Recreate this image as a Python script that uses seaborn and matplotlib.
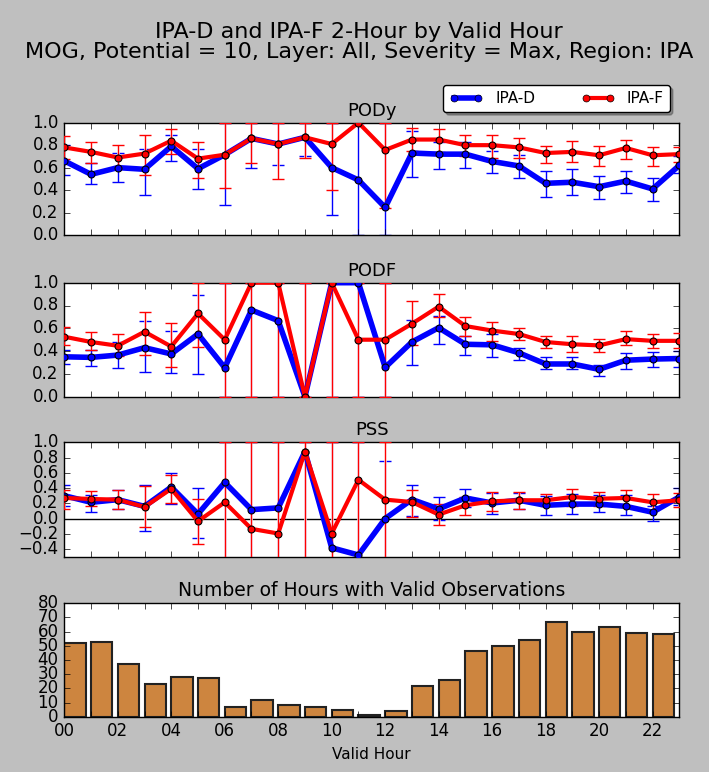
import numpy as np
import pandas as pd
import matplotlib
matplotlib.use("Agg")
import matplotlib.pyplot as plt
import seaborn as sns
from matplotlib.lines import Line2D

plt.style.use("classic")

hours = list(range(24))
bar_hours = list(range(23))
hour_labels = ["%02d" % h if h % 2 == 0 else "" for h in hours]

# PODy
pody_d = [0.66, 0.54, 0.60, 0.585, 0.79, 0.59, 0.715, 0.86, 0.81, 0.87, 0.60, 0.49,
          0.245, 0.73, 0.72, 0.72, 0.655, 0.615, 0.46, 0.47, 0.43, 0.48, 0.41, 0.62]
pody_f = [0.78, 0.74, 0.69, 0.725, 0.84, 0.68, 0.715, 0.86, 0.81, 0.87, 0.81, 1.0,
          0.757, 0.85, 0.85, 0.80, 0.80, 0.78, 0.73, 0.74, 0.71, 0.775, 0.71, 0.72]
pody_d_lo = [0.53, 0.45, 0.475, 0.36, 0.66, 0.41, 0.27, 0.60, 0.62, 0.70, 0.18, 0.0,
             0.0, 0.52, 0.585, 0.60, 0.55, 0.51, 0.34, 0.36, 0.32, 0.375, 0.305, 0.55]
pody_d_hi = [0.80, 0.64, 0.73, 0.77, 0.89, 0.77, 1.0, 1.0, 1.0, 1.0, 1.0, 1.0,
             1.0, 0.93, 0.83, 0.83, 0.75, 0.71, 0.57, 0.585, 0.525, 0.57, 0.51, 0.70]
pody_f_lo = [0.68, 0.64, 0.60, 0.53, 0.72, 0.505, 0.415, 0.64, 0.495, 0.69, 0.40, np.nan,
             0.24, 0.75, 0.735, 0.70, 0.69, 0.69, 0.645, 0.65, 0.61, 0.68, 0.61, 0.65]
pody_f_hi = [0.88, 0.825, 0.80, 0.89, 0.945, 0.83, 1.0, 1.0, 1.0, 1.0, 1.0, np.nan,
             1.0, 0.955, 0.945, 0.89, 0.89, 0.865, 0.79, 0.84, 0.79, 0.845, 0.78, 0.78]

# PODF
podf_d = [0.35, 0.345, 0.365, 0.43, 0.375, 0.55, 0.255, 0.76, 0.667, 0.0, 1.0, 1.0,
          0.257, 0.48, 0.605, 0.46, 0.455, 0.385, 0.287, 0.287, 0.24, 0.32, 0.33, 0.335]
podf_f = [0.526, 0.48, 0.447, 0.57, 0.44, 0.73, 0.50, 1.0, 1.0, 0.0, 1.0, 0.50,
          0.50, 0.64, 0.79, 0.62, 0.58, 0.55, 0.48, 0.46, 0.45, 0.505, 0.49, 0.49]
podf_d_lo = [0.29, 0.27, 0.255, 0.22, 0.21, 0.20, 0.0, 0.0, 0.0, 0.0, 0.0, 0.0,
             0.0, 0.275, 0.46, 0.37, 0.35, 0.32, 0.24, 0.24, 0.18, 0.24, 0.26, 0.26]
podf_d_hi = [0.41, 0.41, 0.48, 0.667, 0.58, 0.89, 1.0, 1.0, 1.0, 1.0, 1.0, 1.0,
             1.0, 0.67, 0.71, 0.53, 0.55, 0.43, 0.35, 0.35, 0.28, 0.38, 0.395, 0.40]
podf_f_lo = [0.45, 0.41, 0.36, 0.37, 0.263, 0.44, 0.0, 0.0, 0.0, 0.0, 0.0, 0.0,
             0.0, 0.45, 0.70, 0.53, 0.49, 0.50, 0.43, 0.395, 0.395, 0.45, 0.43, 0.43]
podf_f_hi = [0.61, 0.57, 0.55, 0.74, 0.643, 1.0, 1.0, 1.0, 1.0, 1.0, 1.0, 1.0,
             1.0, 0.84, 0.90, 0.70, 0.655, 0.60, 0.53, 0.53, 0.51, 0.58, 0.55, 0.56]

# PSS
pss_d = [0.30, 0.213, 0.248, 0.16, 0.413, 0.06, 0.474, 0.117, 0.14, 0.878, -0.383, -0.478,
         0.0, 0.25, 0.126, 0.27, 0.204, 0.24, 0.174, 0.19, 0.19, 0.16, 0.083, 0.283]
pss_f = [0.27, 0.257, 0.248, 0.152, 0.39, -0.035, 0.213, -0.135, -0.196, 0.878, -0.196, 0.509,
         0.248, 0.217, 0.052, 0.174, 0.226, 0.24, 0.24, 0.283, 0.26, 0.27, 0.213, 0.24]
pss_d_lo = [0.17, 0.083, 0.12, -0.165, 0.196, -0.25, -1.0, -1.0, -1.0, -1.0, -1.0, -1.0,
            -1.0, 0.03, -0.02, 0.15, 0.065, 0.12, 0.052, 0.06, 0.083, 0.052, -0.035, 0.18]
pss_d_hi = [0.44, 0.31, 0.37, 0.44, 0.596, 0.40, 1.0, 1.0, 1.0, 1.0, 1.0, 1.0,
            0.75, 0.435, 0.28, 0.387, 0.335, 0.33, 0.30, 0.32, 0.304, 0.31, 0.16, 0.40]
pss_f_lo = [0.126, 0.17, 0.126, -0.11, 0.204, -0.33, -1.0, -1.0, -1.0, -1.0, -1.0, -1.0,
            -1.0, 0.02, -0.078, 0.05, 0.096, 0.126, 0.16, 0.16, 0.16, 0.16, 0.117, 0.15]
pss_f_hi = [0.38, 0.357, 0.37, 0.43, 0.565, 0.257, 1.0, 1.0, 1.0, 1.0, 1.0, 1.0,
            1.0, 0.378, 0.19, 0.283, 0.343, 0.343, 0.32, 0.387, 0.343, 0.37, 0.32, 0.33]

# Number of hours with valid observations
counts = [52, 53, 37, 23, 28, 27, 7, 12, 8, 7, 5, 1, 4, 22, 26, 46, 50, 54, 67, 60, 63, 59, 58]

series_names = ["IPA-D", "IPA-F"]
colors = {"IPA-D": "blue", "IPA-F": "red"}
lws = {"IPA-D": 4, "IPA-F": 3}

W, H = 709, 772
fig = plt.figure(figsize=(W / 100, H / 100), dpi=100, facecolor="#bfbfbf")

left = 64.3 / W
width = (679.3 - 64.3) / W

def ax_at(top_px, bot_px):
    return fig.add_axes([left, 1 - bot_px / H, width, (bot_px - top_px) / H])

ax1 = ax_at(122.7, 235.0)
ax2 = ax_at(282.7, 396.7)
ax3 = ax_at(442.3, 556.7)
ax4 = ax_at(603.3, 716.7)

panels = [
    (ax1, "PODy", pody_d, pody_f, pody_d_lo, pody_d_hi, pody_f_lo, pody_f_hi, (0, 1), np.arange(0, 1.01, 0.2)),
    (ax2, "PODF", podf_d, podf_f, podf_d_lo, podf_d_hi, podf_f_lo, podf_f_hi, (0, 1), np.arange(0, 1.01, 0.2)),
    (ax3, "PSS", pss_d, pss_f, pss_d_lo, pss_d_hi, pss_f_lo, pss_f_hi, (-0.5, 1), np.arange(-0.4, 1.01, 0.2)),
]

def fmt(t):
    return ("%.1f" % t).replace("-", "\u2212")

for ax, title, vd, vf, dlo, dhi, flo, fhi, ylim, yt in panels:
    ax.set_facecolor("white")
    if title == "PSS":
        ax.axhline(0, color="black", lw=1, zorder=1)
    for k, (name, vals, lo, hi) in enumerate([("IPA-D", vd, dlo, dhi), ("IPA-F", vf, flo, fhi)]):
        v = np.array(vals, dtype=float)
        lo = np.array(lo, dtype=float)
        hi = np.array(hi, dtype=float)
        if name == "IPA-F":
            # white underlay so the red whiskers are not tinted by blue ones beneath
            ok = ~np.isnan(lo)
            ax.vlines(np.array(hours)[ok], lo[ok], hi[ok], colors="white", lw=1.8, zorder=2.5)
        yerr = np.vstack([v - lo, hi - v])
        ax.errorbar(hours, v, yerr=yerr, fmt="none", ecolor=colors[name], elinewidth=1.0,
                    capsize=4, capthick=1.0, zorder=2 + k)
    for name, vals in [("IPA-D", vd), ("IPA-F", vf)]:
        df = pd.DataFrame({"hour": hours, "value": vals})
        sns.lineplot(data=df, x="hour", y="value", ax=ax, color=colors[name], lw=lws[name],
                     marker="o", markersize=5, markeredgecolor="black", markeredgewidth=0.8,
                     zorder=4 if name == "IPA-D" else 5, legend=False)
    ax.set_xlim(0, 23)
    ax.set_ylim(*ylim)
    ax.set_yticks(yt)
    ax.set_yticklabels([fmt(t) for t in yt])
    ax.set_xticks(hours)
    ax.set_xticklabels([])
    ax.set_xlabel("")
    ax.set_ylabel("")
    ax.set_title(title, fontsize=13)

ax4.set_facecolor("white")
ax4.bar(bar_hours, counts, width=0.8, align="edge", color="#CD853F", edgecolor="#222222", linewidth=1.5)
ax4.set_xlim(0, 23)
ax4.set_ylim(0, 80)
ax4.set_yticks(range(0, 81, 10))
ax4.set_xticks(hours)
ax4.set_xticklabels(hour_labels)
ax4.set_title("Number of Hours with Valid Observations", fontsize=13.5)
ax4.set_xlabel("Valid Hour", fontsize=11)

for ax in [ax1, ax2, ax3, ax4]:
    ax.tick_params(labelsize=12, direction="in", top=True, right=True)

fig.text(0.506, 1 - 41.5 / H, "IPA-D and IPA-F 2-Hour by Valid Hour\nMOG, Potential = 10, Layer: All, Severity = Max, Region: IPA",
         ha="center", va="center", fontsize=16, linespacing=1.0)

handles = [Line2D([0], [0], color=colors[n], lw=lws[n], marker="o", markersize=5,
                  markeredgecolor="black") for n in series_names]
fig.legend(handles, series_names, loc="upper right", bbox_to_anchor=(670 / W, 1 - 85 / H),
           ncol=2, fancybox=True, shadow=True, numpoints=2, fontsize=11, borderaxespad=0,
           columnspacing=3.0, handlelength=2.2, framealpha=1)

fig.savefig("out.png", dpi=100, facecolor=fig.get_facecolor())
